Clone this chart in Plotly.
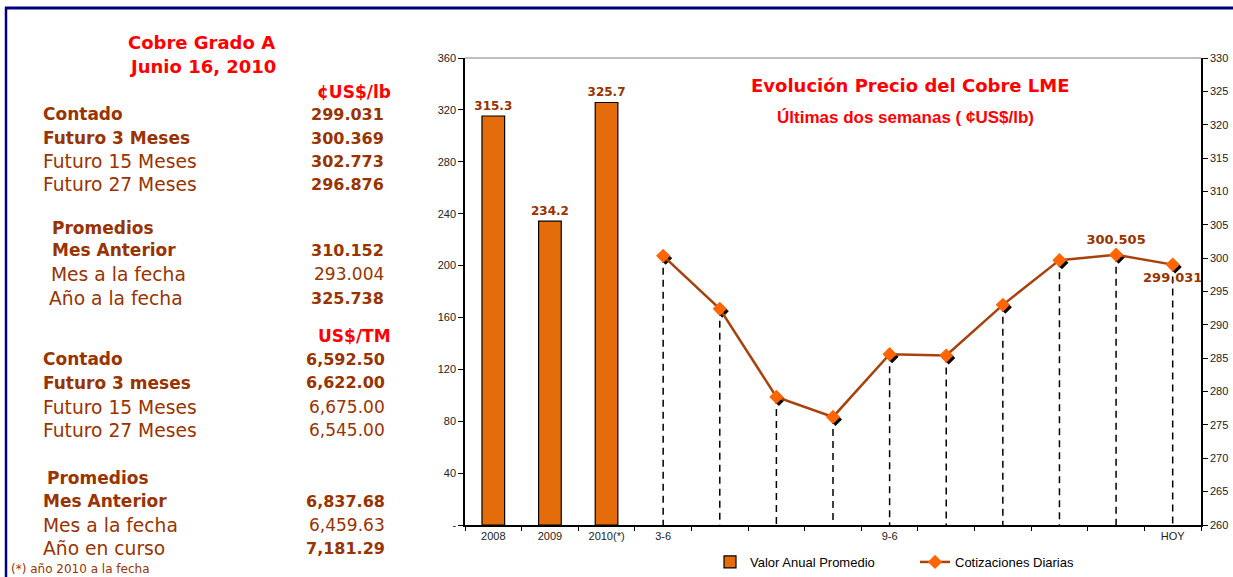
import plotly.graph_objects as go

# ---------------- data ----------------
categories = ["2008", "2009", "2010(*)", "3-6", "4-6", "7-6", "8-6", "9-6",
              "10-6", "11-6", "14-6", "15-6", "HOY"]
tick_labels = ["2008", "2009", "2010(*)", "3-6", "", "", "", "9-6",
               "", "", "", "", "HOY"]
annual_cats = ["2008", "2009", "2010(*)"]
annual_values = [315.3, 234.2, 325.7]
daily_cats = ["3-6", "4-6", "7-6", "8-6", "9-6", "10-6", "11-6", "14-6", "15-6", "HOY"]
daily_values = [300.35, 292.4, 279.2, 276.2, 285.6, 285.4, 293.0, 299.7, 300.505, 299.031]
daily_labels = ["", "", "", "", "", "", "", "", "300.505", "299.031"]

left_ticks = [0, 40, 80, 120, 160, 200, 240, 280, 320, 360]
left_tick_text = ["-", "40", "80", "120", "160", "200", "240", "280", "320", "360"]
right_ticks = [260, 265, 270, 275, 280, 285, 290, 295, 300, 305, 310, 315, 320, 325, 330]

lb_labels = ["Contado", "Futuro 3 Meses", "Futuro 15 Meses", "Futuro 27 Meses"]
lb_values = ["299.031", "300.369", "302.773", "296.876"]
lb_avg_labels = ["Mes Anterior", "Mes a la fecha", "Año a la fecha"]
lb_avg_values = ["310.152", "293.004", "325.738"]
tm_labels = ["Contado", "Futuro 3 meses", "Futuro 15 Meses", "Futuro 27 Meses"]
tm_values = ["6,592.50", "6,622.00", "6,675.00", "6,545.00"]
tm_avg_labels = ["Mes Anterior", "Mes a la fecha", "Año en curso"]
tm_avg_values = ["6,837.68", "6,459.63", "7,181.29"]

# ---------------- styling ----------------
W, H = 1233, 577
L, R, T, B = 465, 1201, 58, 525
BROWN = "#993300"
RED = "#FF0000"
ORANGE_BAR = "#E46C0A"
LINE_C = "#A8420C"
MARK_C = "#FF6600"
TXT_FONT = "DejaVu Sans"
AX_FONT = "Arial, Liberation Sans"

LAB_B = 17     # bold label size
LAB_N = 18.7   # normal label size
VAL_B = 16
VAL_N = 17


def px(x):
    return (x - L) / (R - L)


def py(y):
    return (B - y) / (B - T)


fig = go.Figure()

fig.add_trace(go.Bar(
    x=annual_cats, y=annual_values, name="Valor Anual Promedio",
    marker=dict(color=ORANGE_BAR, line=dict(color="#000000", width=1.2)),
    width=0.4, text=[f"{v:.1f}" for v in annual_values], textposition="outside",
    constraintext="none",
    textfont=dict(family=TXT_FONT, size=12, color=BROWN, weight="bold"),
    cliponaxis=False, xaxis="x", yaxis="y", showlegend=True,
))

# drop lines
dx, dy = [], []
for c, v in zip(daily_cats, daily_values):
    dx += [c, c, None]
    dy += [v, 260, None]
fig.add_trace(go.Scatter(
    x=dx, y=dy, mode="lines", line=dict(color="#000000", width=1.5, dash="7px,5px"),
    xaxis="x", yaxis="y2", showlegend=False, hoverinfo="skip",
))

# marker shadows (shifted axes)
fig.add_trace(go.Scatter(
    x=daily_cats, y=daily_values, mode="markers",
    marker=dict(symbol="diamond", size=10, color="#000000"),
    xaxis="x3", yaxis="y3", showlegend=False, hoverinfo="skip",
))

fig.add_trace(go.Scatter(
    x=daily_cats, y=daily_values, mode="lines+markers+text", name="Cotizaciones Diarias",
    line=dict(color=LINE_C, width=2.5),
    marker=dict(symbol="diamond", size=11, color=MARK_C),
    text=daily_labels,
    textposition=["top center"] * 9 + ["bottom center"],
    textfont=dict(family=TXT_FONT, size=13, color=BROWN, weight="bold"),
    cliponaxis=False, xaxis="x4", yaxis="y4",
))

ncat = len(categories)
cat_px = (R - L) / ncat
sh_x = 2.5 / cat_px
sh_y = 2.5 / ((B - T) / 70)

axis_common = dict(showgrid=False, zeroline=False, automargin=False)
tickfont = dict(family=AX_FONT, size=11, color="#222222")
fig.update_layout(
    width=W, height=H, autosize=False,
    margin=dict(l=L, r=W - R, t=T, b=H - B, autoexpand=False),
    paper_bgcolor="white", plot_bgcolor="white",
    xaxis=dict(type="category", categoryorder="array", categoryarray=categories,
               range=[-0.5, ncat - 0.5],
               tickvals=categories, ticktext=tick_labels, tickson="boundaries",
               ticks="outside", ticklen=4, tickcolor="#000000",
               showline=True, linecolor="#000000", linewidth=1.5,
               tickfont=tickfont, **axis_common),
    yaxis=dict(range=[0, 360], tickvals=left_ticks, ticktext=left_tick_text,
               ticks="outside", ticklen=5, tickcolor="#000000",
               showline=True, linecolor="#000000", linewidth=1.5,
               tickfont=tickfont, **axis_common),
    yaxis2=dict(range=[260, 330], tickvals=right_ticks, overlaying="y", side="right",
                ticks="outside", ticklen=5, tickcolor="#000000",
                showline=True, linecolor="#000000", linewidth=1.5,
                tickfont=tickfont, **axis_common),
    xaxis3=dict(type="category", categoryorder="array", categoryarray=categories,
                range=[-0.5 - sh_x, ncat - 0.5 - sh_x], overlaying="x", anchor="y3",
                visible=False, **axis_common),
    yaxis3=dict(range=[260 + sh_y, 330 + sh_y], overlaying="y", anchor="x3",
                visible=False, **axis_common),
    xaxis4=dict(type="category", categoryorder="array", categoryarray=categories,
                range=[-0.5, ncat - 0.5], overlaying="x", anchor="y4",
                visible=False, **axis_common),
    yaxis4=dict(range=[260, 330], overlaying="y", anchor="x4",
                visible=False, **axis_common),
    legend=dict(orientation="h", x=px(710), y=py(562), xanchor="left", yanchor="middle",
                entrywidth=160, entrywidthmode="pixels",
                font=dict(family=AX_FONT, size=13, color="#000000"),
                bgcolor="rgba(0,0,0,0)", tracegroupgap=0),
)

shapes = [
    dict(type="line", xref="paper", yref="paper", x0=0, x1=1, y0=1, y1=1,
         line=dict(color="#808080", width=1)),
    dict(type="line", xref="paper", yref="paper", x0=px(5), x1=px(W + 5), y0=py(8), y1=py(8),
         line=dict(color="#000080", width=3)),
    dict(type="line", xref="paper", yref="paper", x0=px(6), x1=px(6), y0=py(7), y1=py(H + 5),
         line=dict(color="#000080", width=2.5)),
]
fig.update_layout(shapes=shapes)

ann = []


def add_text(text, x, y, anchor="left", size=17, color=BROWN, bold=False, family=TXT_FONT):
    ann.append(dict(text=text, x=px(x), y=py(y), xref="paper", yref="paper",
                    xanchor=anchor, yanchor="middle", showarrow=False, borderpad=0,
                    font=dict(family=family, size=size, color=color,
                              weight="bold" if bold else "normal")))


add_text("Evolución Precio del Cobre LME", 910, 85, "center", 18, RED, True)
add_text("Últimas dos semanas ( ¢US$/lb)", 905, 118, "center", 17, RED, True, AX_FONT)

add_text("Cobre Grado A", 201, 43, "center", 18, RED, True)
add_text("Junio 16, 2010", 202, 66, "center", 18, RED, True)
add_text("¢US$/lb", 392, 92, "right", 17, RED, True)

lb_y = [114, 138, 161, 184]
lb_bold_lab = [True, True, False, False]
for lab, val, y, bl in zip(lb_labels, lb_values, lb_y, lb_bold_lab):
    add_text(lab, 42, y, "left", LAB_B if bl else LAB_N, BROWN, bl)
    add_text(val, 385, y, "right", VAL_B, BROWN, True)

add_text("Promedios", 51, 228, "left", LAB_B, BROWN, True)
lba_y = [250, 274, 298]
lba_x = [51, 50, 48]
lba_bold_lab = [True, False, False]
lba_bold_val = [True, False, True]
for lab, val, y, x, bl, bv in zip(lb_avg_labels, lb_avg_values, lba_y, lba_x, lba_bold_lab, lba_bold_val):
    add_text(lab, x, y, "left", LAB_B if bl else LAB_N, BROWN, bl)
    add_text(val, 385, y, "right", VAL_B if bv else VAL_N, BROWN, bv)

add_text("US$/TM", 392, 336, "right", 17, RED, True)
tm_y = [359, 383, 407, 430]
tm_bold = [True, True, False, False]
for lab, val, y, b in zip(tm_labels, tm_values, tm_y, tm_bold):
    add_text(lab, 42, y, "left", LAB_B if b else LAB_N, BROWN, b)
    add_text(val, 386, y, "right", VAL_B if b else VAL_N, BROWN, b)

add_text("Promedios", 46, 478, "left", LAB_B, BROWN, True)
tma_y = [501, 525, 548]
tma_bold_lab = [True, False, False]
tma_bold_val = [True, False, True]
for lab, val, y, bl, bv in zip(tm_avg_labels, tm_avg_values, tma_y, tma_bold_lab, tma_bold_val):
    add_text(lab, 42, y, "left", LAB_B if bl else LAB_N, BROWN, bl)
    add_text(val, 386, y, "right", VAL_B if bv else VAL_N, BROWN, bv)

add_text("(*) año 2010 a la fecha", 10, 568.5, "left", 12, BROWN, False)

fig.update_layout(annotations=ann)

fig.write_html(
    "out.html",
    config={"responsive": False, "displayModeBar": False},
    post_script="document.body.style.margin='0';document.body.style.padding='0';"
                "document.body.style.overflow='hidden';",
)
